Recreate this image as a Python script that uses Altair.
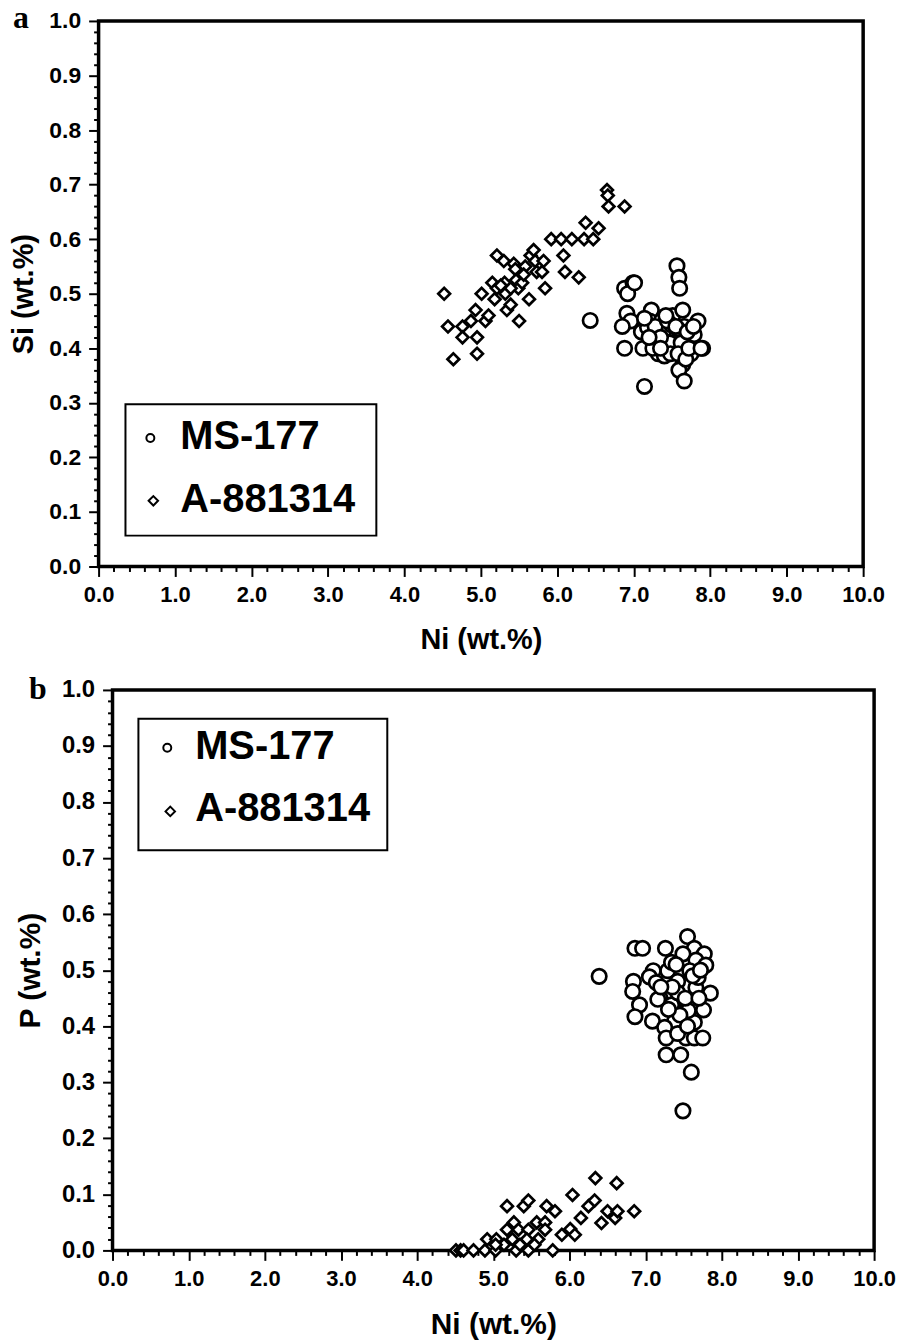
import altair as alt
import pandas as pd

# ---------------- Panel a : Si vs Ni ----------------
MS_NI_A = [7.565, 7.59, 7.60, 6.88, 6.99, 6.92, 6.91, 6.96, 6.85, 6.88, 7.14, 7.10, 7.12,
           7.23, 7.21, 7.36, 7.51, 7.64, 7.66, 7.84, 7.54, 7.38, 7.32, 7.53, 7.75, 7.90,
           7.64, 7.59, 7.66, 7.40, 7.30, 7.71, 7.47, 7.66, 7.30, 7.49, 7.18, 7.79, 7.57,
           7.40, 7.26, 6.43, 7.28, 7.35, 7.44, 7.48, 7.55, 7.62, 7.70, 7.25, 7.58, 7.68,
           7.42, 7.35, 7.78, 7.20, 7.72, 7.14, 7.01, 7.88]
MS_SI_A = [0.551, 0.53, 0.51, 0.51, 0.52, 0.50, 0.464, 0.45, 0.44, 0.40, 0.33, 0.43, 0.40,
           0.47, 0.45, 0.45, 0.46, 0.47, 0.44, 0.45, 0.42, 0.40, 0.39, 0.40, 0.39, 0.40,
           0.37, 0.36, 0.34, 0.434, 0.425, 0.418, 0.41, 0.40, 0.406, 0.443, 0.438, 0.425, 0.436,
           0.386, 0.42, 0.451, 0.44, 0.42, 0.45, 0.39, 0.44, 0.41, 0.43, 0.40, 0.39, 0.38,
           0.46, 0.40, 0.44, 0.42, 0.40, 0.455, 0.52, 0.40]

A_NI_A = [4.52, 4.57, 4.64, 4.76, 4.76, 4.87, 4.93, 4.95, 4.95, 5.01, 5.06, 5.10, 5.15,
          5.18, 5.21, 5.21, 5.30, 5.31, 5.32, 5.34, 5.39, 5.43, 5.45, 5.46, 5.49, 5.50,
          5.54, 5.58, 5.63, 5.65, 5.69, 5.71, 5.73, 5.80, 5.82, 5.84, 5.92, 6.05, 6.08,
          6.10, 6.19, 6.28, 6.35, 6.37, 6.47, 6.54, 6.65, 6.66, 6.67, 6.88, 5.26, 5.39, 5.56]
A_SI_A = [0.50, 0.44, 0.38, 0.44, 0.42, 0.45, 0.47, 0.42, 0.39, 0.50, 0.45, 0.46, 0.52,
          0.49, 0.57, 0.51, 0.56, 0.52, 0.50, 0.47, 0.48, 0.555, 0.545, 0.525, 0.51, 0.45,
          0.52, 0.55, 0.49, 0.57, 0.58, 0.56, 0.54, 0.54, 0.56, 0.51, 0.60, 0.60, 0.57,
          0.54, 0.60, 0.53, 0.60, 0.63, 0.60, 0.62, 0.69, 0.68, 0.66, 0.66, 0.515, 0.51, 0.535]

# ---------------- Panel b : P vs Ni ----------------
MS_NI_B = [6.39, 6.86, 6.96, 7.26, 7.55, 7.64, 7.49, 7.77, 7.66, 7.79, 7.58, 7.29, 7.10,
           7.05, 6.84, 6.83, 7.42, 7.66, 7.85, 7.19, 6.92, 7.47, 7.34, 7.60, 7.76, 6.86,
           7.09, 7.50, 7.38, 7.25, 7.64, 7.27, 7.53, 7.64, 7.75, 7.42, 7.27, 7.46, 7.60,
           7.49, 7.16, 7.42, 7.56, 7.14, 7.34, 7.69, 7.35, 7.52, 7.70, 7.45, 7.30, 7.62,
           7.40, 7.55, 7.72, 7.20]
MS_P_B = [0.489, 0.539, 0.539, 0.539, 0.56, 0.539, 0.529, 0.529, 0.518, 0.509, 0.499, 0.499, 0.499,
          0.488, 0.48, 0.462, 0.48, 0.469, 0.459, 0.45, 0.438, 0.449, 0.438, 0.44, 0.429, 0.417,
          0.409, 0.417, 0.409, 0.398, 0.407, 0.379, 0.379, 0.379, 0.379, 0.387, 0.349, 0.349, 0.318,
          0.249, 0.448, 0.46, 0.428, 0.478, 0.514, 0.487, 0.47, 0.45, 0.45, 0.42, 0.43, 0.49,
          0.51, 0.40, 0.50, 0.47]

A_NI_B = [4.51, 4.57, 4.61, 4.74, 4.89, 5.03, 5.30, 5.46, 5.78, 4.92, 5.04, 5.18, 5.40,
          5.46, 5.70, 5.81, 5.27, 5.18, 5.33, 5.46, 5.57, 5.68, 5.25, 5.44, 5.59, 5.68,
          5.14, 5.90, 6.01, 6.07, 6.04, 6.15, 6.25, 6.33, 6.34, 6.42, 6.50, 6.60, 6.63,
          6.62, 6.85, 5.03, 5.35, 5.54]
A_P_B = [0.0, 0.0, 0.0, 0.0, 0.0, 0.0, 0.0, 0.0, 0.0, 0.02, 0.02, 0.079, 0.079,
         0.089, 0.079, 0.07, 0.05, 0.037, 0.037, 0.037, 0.05, 0.05, 0.02, 0.02, 0.02, 0.037,
         0.01, 0.028, 0.038, 0.028, 0.099, 0.058, 0.079, 0.089, 0.129, 0.049, 0.07, 0.058, 0.07,
         0.12, 0.07, 0.01, 0.01, 0.01]

SAMPLES = ["MS-177", "A-881314"]
SHAPES = ["circle", "diamond"]
X_TICKS = [round(i * 0.2, 1) for i in range(51)]      # 0.0 .. 10.0, major every 1.0
Y_TICKS = [round(i * 0.02, 2) for i in range(51)]     # 0.00 .. 1.00, major every 0.1
X_DOMAIN = [0, 10]
Y_DOMAIN = [0, 1]

FONT = "Liberation Sans"
X_LABEL = "abs(datum.value - round(datum.value)) < 0.001 ? format(datum.value, '.1f') : ''"
Y_LABEL = "abs(datum.value*10 - round(datum.value*10)) < 0.001 ? format(datum.value, '.1f') : ''"
X_MAJOR = "abs(datum.value - round(datum.value)) < 0.001"
Y_MAJOR = "abs(datum.value*10 - round(datum.value*10)) < 0.001"

ONE = pd.DataFrame({"k": [0]})


def legend_layers(box, sym_pos, lab_x, lab_y):
    """Framed key: box = (x1, x2, y1, y2) in pixels inside the panel."""
    layers = [
        alt.Chart(ONE).mark_rect(fill="white", stroke="black", strokeWidth=2).encode(
            x=alt.value(box[0]), x2=alt.value(box[1]), y=alt.value(box[2]), y2=alt.value(box[3])
        )
    ]
    for name, shp, (sx, sy), ly in zip(SAMPLES, SHAPES, sym_pos, lab_y):
        layers.append(
            alt.Chart(ONE).mark_point(
                shape=shp, size=64 if shp == "circle" else 90, filled=True, color="white",
                stroke="black", strokeWidth=2, opacity=1,
            ).encode(x=alt.value(sx), y=alt.value(sy))
        )
        layers.append(
            alt.Chart(ONE).mark_text(
                text=name, font=FONT, fontWeight="bold", fontSize=40, color="black",
                align="left", baseline="middle",
            ).encode(x=alt.value(lab_x), y=alt.value(ly))
        )
    return layers


def panel(ms_x, ms_y, a_x, a_y, ytitle, letter, w, h, shift, ylab_fs, xlab_fs, title_fs,
          ytp, xtp, box, sym_pos, lab_x, lab_y, letter_xy):
    df_ms = pd.DataFrame({"Ni": ms_x, "v": ms_y})
    df_a = pd.DataFrame({"Ni": a_x, "v": a_y})
    xscale = alt.Scale(domain=X_DOMAIN, nice=False, zero=False, range=[shift, w])
    yscale = alt.Scale(domain=Y_DOMAIN, nice=False, zero=False)
    xaxis = alt.Axis(
        values=X_TICKS, labelExpr=X_LABEL, labelOverlap=False, labelFlush=False,
        tickSize={"condition": {"test": X_MAJOR, "value": 10}, "value": 5},
        tickWidth=2, tickColor="black", domain=False, grid=False,
        labelFont=FONT, labelFontWeight="bold", labelFontSize=xlab_fs, labelColor="black",
        labelPadding=8, title="Ni (wt.%)", titleFont=FONT, titleFontWeight="bold",
        titleFontSize=title_fs, titleColor="black", titlePadding=xtp,
    )
    yaxis = alt.Axis(
        values=Y_TICKS, labelExpr=Y_LABEL, labelOverlap=False, labelFlush=False,
        tickSize={"condition": {"test": Y_MAJOR, "value": 10}, "value": 5},
        tickWidth=2, tickColor="black", domain=False, grid=False, offset=-shift,
        labelFont=FONT, labelFontWeight="bold", labelFontSize=ylab_fs, labelColor="black",
        labelPadding=8, title=ytitle, titleFont=FONT, titleFontWeight="bold",
        titleFontSize=title_fs, titleColor="black", titlePadding=ytp,
    )
    frame = alt.Chart(ONE).mark_rect(
        fill="transparent", stroke="black", strokeWidth=3.5
    ).encode(
        x=alt.X(datum=X_DOMAIN[0], scale=xscale, axis=xaxis),
        x2=alt.X2(datum=X_DOMAIN[1]),
        y=alt.Y(datum=Y_DOMAIN[0], scale=yscale, axis=yaxis),
        y2=alt.Y2(datum=Y_DOMAIN[1]),
    )
    style = dict(filled=True, color="white", stroke="black", strokeWidth=2.7, opacity=1)
    circles = alt.Chart(df_ms).mark_point(shape="circle", size=210, **style).encode(
        x=alt.X("Ni:Q", scale=xscale, axis=xaxis),
        y=alt.Y("v:Q", scale=yscale, axis=yaxis),
    )
    diamonds = alt.Chart(df_a).mark_point(shape="diamond", size=140, **style).encode(
        x=alt.X("Ni:Q", scale=xscale, axis=xaxis),
        y=alt.Y("v:Q", scale=yscale, axis=yaxis),
    )
    lab = alt.Chart(pd.DataFrame({"t": [letter]})).mark_text(
        font="Liberation Serif", fontWeight="bold", fontSize=32, color="black",
        align="center", baseline="alphabetic",
    ).encode(text="t:N", x=alt.value(letter_xy[0]), y=alt.value(letter_xy[1]))
    layers = [frame, diamonds, circles] + legend_layers(box, sym_pos, lab_x, lab_y) + [lab]
    return alt.layer(*layers).properties(width=w, height=h)


pa = panel(MS_NI_A, MS_SI_A, A_NI_A, A_SI_A, "Si (wt.%)", "a", 768, 548, 0, 23, 22, 29, 10, 20,
           (27, 279, 385, 517), [(52, 419), (55, 482)], 82, [418, 481], (-78, 7))
pb = panel(MS_NI_B, MS_P_B, A_NI_B, A_P_B, "P (wt.%)", "b", 779, 563, 14, 24, 22, 30, 16, 20,
           (40, 290, 29, 161), [(69, 58), (72, 122)], 97, [57, 120], (-61, 9))

chart = alt.concat(pa, pb, columns=1, spacing=19).configure(
    padding={"left": 2, "top": -9, "right": 0, "bottom": 0},
    background="white",
).configure_view(
    stroke="transparent", strokeWidth=0,
)

chart.save("out.html", embed_options={"renderer": "svg", "actions": False})
